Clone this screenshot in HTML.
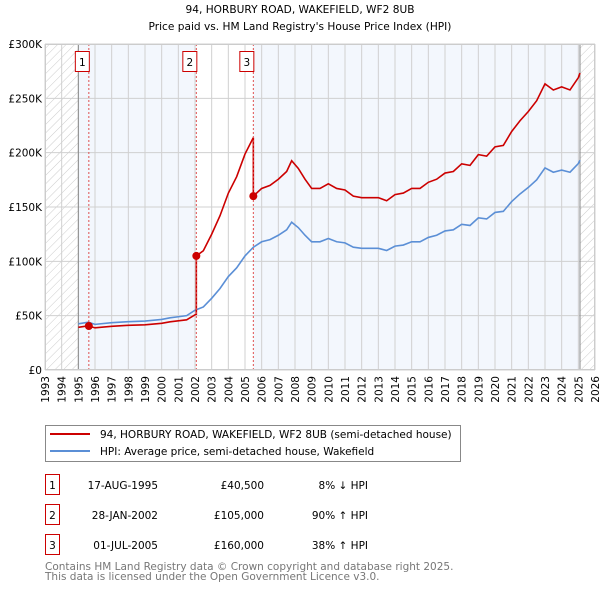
<!DOCTYPE html>
<html><head><meta charset="utf-8"><style>
body{margin:0;background:#fff;font-family:"DejaVu Sans","Liberation Sans",sans-serif;}
svg text{font-family:"DejaVu Sans","Liberation Sans",sans-serif;}
</style></head><body>
<svg id="c" width="600" height="590" viewBox="0 0 600 590" xmlns="http://www.w3.org/2000/svg">
<defs><pattern id="hatch" width="6" height="6" patternUnits="userSpaceOnUse" patternTransform="rotate(45)"><line x1="0" y1="0" x2="0" y2="6" stroke="#ccc" stroke-width="1"/></pattern></defs>
<text x="300" y="13" text-anchor="middle" font-size="10.6">94, HORBURY ROAD, WAKEFIELD, WF2 8UB</text>
<text x="300" y="30" text-anchor="middle" font-size="10.6">Price paid vs. HM Land Registry's House Price Index (HPI)</text>
<g id="plot"></g>
<g>
<rect x="45.5" y="425.5" width="415" height="36" fill="#fff" stroke="#888"/>
<line x1="50" y1="434" x2="90" y2="434" stroke="#cc0000" stroke-width="2"/>
<text x="100" y="438" font-size="10.5">94, HORBURY ROAD, WAKEFIELD, WF2 8UB (semi-detached house)</text>
<line x1="50" y1="451" x2="90" y2="451" stroke="#5b8fd6" stroke-width="2"/>
<text x="100" y="455" font-size="10.5">HPI: Average price, semi-detached house, Wakefield</text>
</g>
<g id="table" font-size="10.5"></g>
<text x="45" y="570" font-size="10.5" fill="#777">Contains HM Land Registry data © Crown copyright and database right 2025.</text>
<text x="45" y="580" font-size="10.5" fill="#777">This data is licensed under the Open Government Licence v3.0.</text>
</svg>
<script>
const hpiYears=[1995.0,1995.6,1996.0,1997,1998,1999,2000,2000.5,2001,2001.5,2002.0,2002.5,2003,2003.5,2004,2004.5,2005,2005.5,2006,2006.5,2007,2007.5,2007.8,2008.2,2008.6,2009,2009.5,2010,2010.5,2011,2011.5,2012,2012.5,2013,2013.5,2014,2014.5,2015,2015.5,2016,2016.5,2017,2017.5,2018,2018.5,2019,2019.5,2020,2020.5,2021,2021.5,2022,2022.5,2023,2023.5,2024,2024.5,2025,2025.1];
const hpiValues=[42.5,44,42,43.5,44.5,45,46.5,48,49,50,55,58,66,75,86,94,105,113,118,120,124,129,136,131,124,118,118,121,118,117,113,112,112,112,110,114,115,118,118,122,124,128,129,134,133,140,139,145,146,155,162,168,175,186,182,184,182,190,193];
const saleYears=[1995.63,2002.08,2005.5];
const salePrices=[40.5,105,160];
const saleLabels=["1","2","3"];
const saleDates=["17-AUG-1995","28-JAN-2002","01-JUL-2005"];
const salePriceText=["£40,500","£105,000","£160,000"];
const saleHpiText=["8% ↓ HPI","90% ↑ HPI","38% ↑ HPI"];
const yTicks=[0,50,100,150,200,250,300];
const yTickLabels=["£0","£50K","£100K","£150K","£200K","£250K","£300K"];
const xMin=1993,xMax=2026,yMax=300;
const L=45,R=595,T=44,B=370;
const X=v=>L+(v-xMin)/(xMax-xMin)*(R-L);
const Y=v=>B-v/yMax*(B-T);
const NS="http://www.w3.org/2000/svg";
const plot=document.getElementById('plot');
function mk(tag,attrs,parent){const e=document.createElementNS(NS,tag);for(const k in attrs)e.setAttribute(k,attrs[k]);(parent||plot).appendChild(e);return e;}
function hpiAt(t){for(let i=0;i<hpiYears.length-1;i++){if(t<=hpiYears[i+1]){const f=(t-hpiYears[i])/(hpiYears[i+1]-hpiYears[i]);return hpiValues[i]+f*(hpiValues[i+1]-hpiValues[i]);}}return hpiValues[hpiValues.length-1];}
let e;
e=mk('rect',{x:L,y:T,width:R-L,height:B-T,fill:'#fff'});

const bands=[[1995,saleYears[1]],[saleYears[2],2025.1]];
bands.forEach(b=>{e=mk('rect',{x:X(b[0]),y:T,width:X(b[1])-X(b[0]),height:B-T,fill:'#f3f7fd'});
});
e=mk('rect',{x:L,y:T,width:X(1995)-L,height:B-T,fill:'url(#hatch)'});

e=mk('rect',{x:X(2025.1),y:T,width:R-X(2025.1),height:B-T,fill:'url(#hatch)'});

for(let yr=xMin;yr<=xMax;yr++){
 e=mk('line',{x1:X(yr),x2:X(yr),y1:T,y2:B,stroke:'#d0d0d0','stroke-width':1});
 
 e=mk('text',{x:0,y:0,'font-size':10.5,'text-anchor':'end',transform:`translate(${X(yr)+4},${B+6}) rotate(-90)`});
 e.textContent=yr;
}
yTicks.forEach((v,i)=>{
 e=mk('line',{x1:L,x2:R,y1:Y(v),y2:Y(v),stroke:'#d0d0d0','stroke-width':1});
 
 e=mk('text',{x:L-3,y:Y(v)+4,'font-size':10.5,'text-anchor':'end'});
 e.textContent=yTickLabels[i];
});
[1995,2025.1].forEach(v=>{e=mk('line',{x1:X(v),x2:X(v),y1:T,y2:B,stroke:'#888','stroke-width':1});
});
e=mk('polyline',{points:hpiYears.map((t,i)=>X(t)+','+Y(hpiValues[i])).join(' '),fill:'none',stroke:'#5b8fd6','stroke-width':1.6});

let pts=[];
for(let s=0;s<saleYears.length;s++){
 const start=saleYears[s],end=s+1<saleYears.length?saleYears[s+1]:2025.1;
 const f=salePrices[s]/hpiAt(start);
 const ts=[start].concat(hpiYears.filter(t=>t>start&&t<end),[end]);
 ts.forEach(t=>pts.push(X(t)+','+Y(hpiAt(t)*f)));
}
const f0=salePrices[0]/hpiAt(saleYears[0]);
pts=hpiYears.filter(t=>t<saleYears[0]).map(t=>X(t)+','+Y(hpiAt(t)*f0)).concat(pts);
e=mk('polyline',{points:pts.join(' '),fill:'none',stroke:'#cc0000','stroke-width':1.6});

saleYears.forEach((t,i)=>{
 e=mk('line',{x1:X(t),x2:X(t),y1:T,y2:B,stroke:'#e05050','stroke-width':1,'stroke-dasharray':'2,2'});
 
 e=mk('circle',{cx:X(t),cy:Y(salePrices[i]),r:4,fill:'#cc0000'});
 
 e=mk('rect',{x:X(t)-13.5,y:51.5,width:14,height:20,fill:'#fff',stroke:'#cc0000'});
 
 e=mk('text',{x:X(t)-6.5,y:66,'font-size':10.5,'text-anchor':'middle'});
 e.textContent=saleLabels[i];
});
e=mk('rect',{x:L+0.5,y:T+0.5,width:R-L-1,height:B-T-1,fill:'none',stroke:'#ccc'});

const tbl=document.getElementById('table');
const rowY=[483,513,543];
saleLabels.forEach((lab,i)=>{
 const y=rowY[i];
 e=mk('rect',{x:45.5,y:y-8.5,width:14,height:20,fill:'#fff',stroke:'#cc0000'},tbl);
 
 e=mk('text',{x:52.5,y:y+6,'text-anchor':'middle'},tbl);e.textContent=lab;
 
 e=mk('text',{x:158,y:y+6,'text-anchor':'end'},tbl);e.textContent=saleDates[i];
 
 e=mk('text',{x:264,y:y+6,'text-anchor':'end'},tbl);e.textContent=salePriceText[i];
 
 e=mk('text',{x:368,y:y+6,'text-anchor':'end'},tbl);e.textContent=saleHpiText[i];
 
});
</script>
</body></html>
